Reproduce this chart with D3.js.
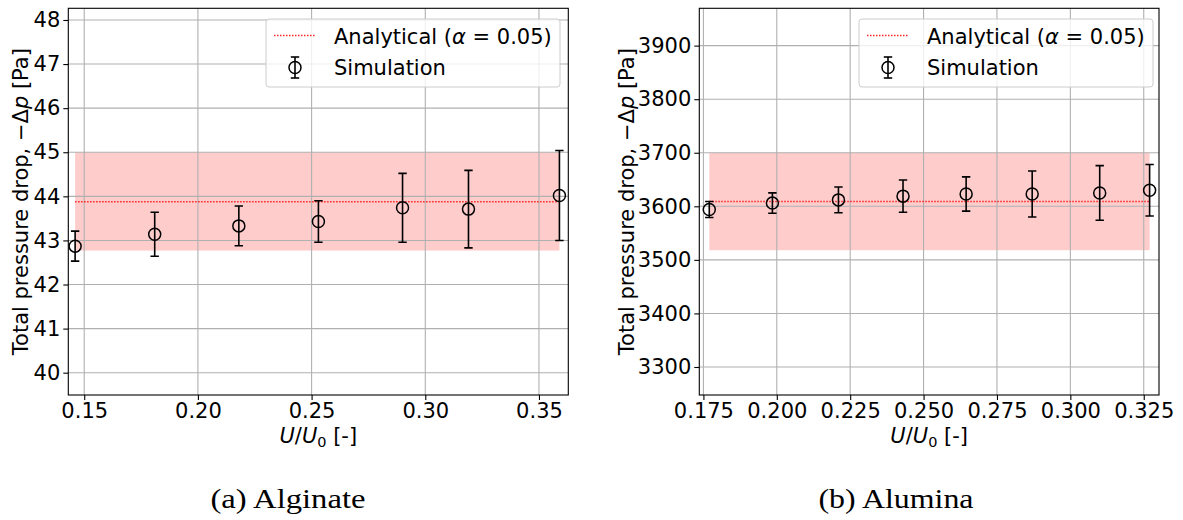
<!DOCTYPE html>
<html>
<head>
<meta charset="utf-8">
<script src="https://cdn.jsdelivr.net/npm/d3@7"></script>
<style>
  html, body { margin: 0; padding: 0; background: #ffffff; }
  svg { display: block; }
</style>
</head>
<body>
<div id="chart"></div>
<script>
// ---- Alginate: total pressure drop vs superficial velocity ratio ----
const alginateU   = [0.146, 0.181, 0.218, 0.253, 0.290, 0.319, 0.359];
const alginateDp  = [42.87, 43.14, 43.33, 43.43, 43.74, 43.71, 44.02];
const alginateErr = [0.34, 0.50, 0.45, 0.47, 0.78, 0.88, 1.02];
const alginateAnalytical = 43.88;
const alginateBand = [42.77, 45.00];
const alginateXTicks = [0.15, 0.20, 0.25, 0.30, 0.35];
const alginateYTicks = [40, 41, 42, 43, 44, 45, 46, 47, 48];

// ---- Alumina ----
const aluminaU   = [0.177, 0.1985, 0.221, 0.243, 0.2645, 0.287, 0.310, 0.327];
const aluminaDp  = [3594, 3606, 3612, 3619, 3623, 3623, 3625, 3630];
const aluminaErr = [15, 19, 24, 30, 32, 43, 51, 48];
const aluminaAnalytical = 3609;
const aluminaBand = [3518, 3700];
const aluminaXTicks = [0.175, 0.200, 0.225, 0.250, 0.275, 0.300, 0.325];
const aluminaYTicks = [3300, 3400, 3500, 3600, 3700, 3800, 3900];

const legendLabels = ["Analytical (α = 0.05)", "Simulation"];
const captions = ["(a) Alginate", "(b) Alumina"];

const W = 1183, H = 520;
const FONT = "'DejaVu Sans', sans-serif";
const FS = 21;

const svg = d3.select("#chart").append("svg")
  .attr("width", W).attr("height", H)
  .attr("viewBox", `0 0 ${W} ${H}`);
svg.append("rect").attr("width", W).attr("height", H).attr("fill", "#fff");

const panels = [
  {
    u: alginateU, dp: alginateDp, err: alginateErr,
    analytical: alginateAnalytical, band: alginateBand,
    xTicks: alginateXTicks, yTicks: alginateYTicks, xFmt: ".2f", yFmt: "d",
    xDomain: [0.1430, 0.3629], yDomain: [39.494, 48.265],
    box: { left: 68.3, right: 568.3, top: 8.3, bottom: 395 },
    yLabelX: 28, legendX: 266, caption: captions[0], captionX: 288
  },
  {
    u: aluminaU, dp: aluminaDp, err: aluminaErr,
    analytical: aluminaAnalytical, band: aluminaBand,
    xTicks: aluminaXTicks, yTicks: aluminaYTicks, xFmt: ".3f", yFmt: "d",
    xDomain: [0.1736, 0.3302], yDomain: [3247.7, 3969.7],
    box: { left: 699.3, right: 1159, top: 8.3, bottom: 395 },
    yLabelX: 634, legendX: 859, caption: captions[1], captionX: 896
  }
];

function drawErrorMarker(g, cx, cy, yTop, yBot, capHalf, r) {
  g.append("line").attr("x1", cx).attr("x2", cx).attr("y1", yTop).attr("y2", yBot)
    .attr("stroke", "#000").attr("stroke-width", 1.6);
  [yTop, yBot].forEach(yy => {
    g.append("line").attr("x1", cx - capHalf).attr("x2", cx + capHalf)
      .attr("y1", yy).attr("y2", yy)
      .attr("stroke", "#000").attr("stroke-width", 1.6);
  });
  g.append("circle").attr("cx", cx).attr("cy", cy).attr("r", r)
    .attr("fill", "none").attr("stroke", "#000").attr("stroke-width", 1.5);
}

panels.forEach(p => {
  const b = p.box;
  const x = d3.scaleLinear().domain(p.xDomain).range([b.left, b.right]);
  const y = d3.scaleLinear().domain(p.yDomain).range([b.bottom, b.top]);
  const g = svg.append("g");

  // clip to the plotting area
  const clipId = "clip" + Math.round(b.left);
  svg.append("clipPath").attr("id", clipId)
    .append("rect").attr("x", b.left).attr("y", b.top)
    .attr("width", b.right - b.left).attr("height", b.bottom - b.top);
  const plot = g.append("g").attr("clip-path", `url(#${clipId})`);

  const uMin = d3.min(p.u), uMax = d3.max(p.u);

  // uncertainty band of the analytical prediction
  plot.append("rect")
    .attr("x", x(uMin)).attr("width", x(uMax) - x(uMin))
    .attr("y", y(p.band[1])).attr("height", y(p.band[0]) - y(p.band[1]))
    .attr("fill", "#ff0000").attr("fill-opacity", 0.2);

  // grid
  plot.selectAll(".gx").data(p.xTicks).enter().append("line")
    .attr("x1", d => x(d)).attr("x2", d => x(d))
    .attr("y1", b.top).attr("y2", b.bottom)
    .attr("stroke", "#b0b0b0").attr("stroke-width", 1.1);
  plot.selectAll(".gy").data(p.yTicks).enter().append("line")
    .attr("x1", b.left).attr("x2", b.right)
    .attr("y1", d => y(d)).attr("y2", d => y(d))
    .attr("stroke", "#b0b0b0").attr("stroke-width", 1.1);

  // analytical prediction
  plot.append("line")
    .attr("x1", x(uMin)).attr("x2", x(uMax))
    .attr("y1", y(p.analytical)).attr("y2", y(p.analytical))
    .attr("stroke", "#ff0000").attr("stroke-opacity", 0.85)
    .attr("stroke-width", 1.5).attr("stroke-dasharray", "1.5,1.5");

  // simulation results with error bars
  p.u.forEach((u, i) => {
    drawErrorMarker(plot, x(u), y(p.dp[i]),
      y(p.dp[i] + p.err[i]), y(p.dp[i] - p.err[i]), 4.2, 6);
  });

  // axes
  const xAxis = d3.axisBottom(x).tickValues(p.xTicks)
    .tickFormat(d3.format(p.xFmt)).tickSize(5).tickPadding(3);
  const yAxis = d3.axisLeft(y).tickValues(p.yTicks)
    .tickFormat(d3.format(p.yFmt)).tickSize(5).tickPadding(3);
  const gx = g.append("g").attr("transform", `translate(0,${b.bottom})`).call(xAxis);
  const gy = g.append("g").attr("transform", `translate(${b.left},0)`).call(yAxis);
  [gx, gy].forEach(ax => {
    ax.select(".domain").remove();
    ax.selectAll(".tick line").attr("stroke", "#000").attr("stroke-width", 1.1);
    ax.selectAll(".tick text").attr("fill", "#000")
      .style("font-family", FONT).style("font-size", FS + "px");
  });

  // spines
  g.append("rect").attr("x", b.left).attr("y", b.top)
    .attr("width", b.right - b.left).attr("height", b.bottom - b.top)
    .attr("fill", "none").attr("stroke", "#000").attr("stroke-width", 1.1);

  // x label: U/U0 [-]
  const xl = g.append("text")
    .attr("x", (b.left + b.right) / 2).attr("y", 443)
    .attr("text-anchor", "middle")
    .style("font-family", FONT).style("font-size", FS + "px");
  xl.append("tspan").attr("font-style", "italic").text("U");
  xl.append("tspan").text("/");
  xl.append("tspan").attr("font-style", "italic").text("U");
  xl.append("tspan").attr("font-size", "14.5px").attr("dy", 4).text("0");
  xl.append("tspan").attr("dy", -4).text(" [-]");

  // y label
  const cy = (b.top + b.bottom) / 2;
  const yl = g.append("text")
    .attr("transform", `translate(${p.yLabelX},${cy}) rotate(-90)`)
    .attr("text-anchor", "middle")
    .style("font-family", FONT).style("font-size", FS + "px");
  yl.append("tspan").text("Total pressure drop, −Δ");
  yl.append("tspan").attr("font-style", "italic").text("p");
  yl.append("tspan").text(" [Pa]");

  // legend
  const lx = p.legendX, ly = 19, lw = 294, lh = 68;
  const lg = g.append("g");
  lg.append("rect").attr("x", lx).attr("y", ly).attr("width", lw).attr("height", lh)
    .attr("rx", 3).attr("fill", "#fff").attr("fill-opacity", 0.8)
    .attr("stroke", "#cccccc").attr("stroke-width", 1);
  lg.append("line").attr("x1", lx + 8).attr("x2", lx + 50)
    .attr("y1", ly + 16.5).attr("y2", ly + 16.5)
    .attr("stroke", "#ff0000").attr("stroke-opacity", 0.85)
    .attr("stroke-width", 1.5).attr("stroke-dasharray", "1.5,1.5");
  const t1 = lg.append("text").attr("x", lx + 68).attr("y", ly + 24.5)
    .style("font-family", FONT).style("font-size", FS + "px");
  t1.append("tspan").text("Analytical (");
  t1.append("tspan").attr("font-style", "italic").text("α");
  t1.append("tspan").text(" = 0.05)");
  drawErrorMarker(lg, lx + 29, ly + 48.5, ly + 38, ly + 59, 4.2, 6);
  lg.append("text").attr("x", lx + 68).attr("y", ly + 56)
    .style("font-family", FONT).style("font-size", FS + "px")
    .text(legendLabels[1]);

  // caption
  svg.append("text").attr("x", p.captionX).attr("y", 508)
    .attr("text-anchor", "middle")
    .style("font-family", "'Liberation Serif', serif").style("font-size", "27px")
    .attr("textLength", 155).attr("lengthAdjust", "spacingAndGlyphs")
    .text(p.caption);
});
</script>
</body>
</html>
